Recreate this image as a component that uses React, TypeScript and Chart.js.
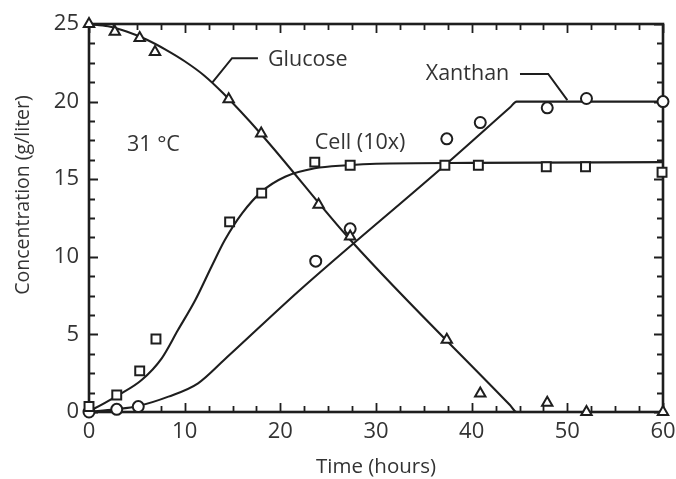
import React, { useEffect, useRef } from "react";
import { Chart, registerables } from "chart.js";

Chart.register(...registerables);

// Observed points (time in hours, concentration in g/liter)
const glucoseObsTime = [0, 2.7, 5.3, 6.9, 14.6, 18.0, 24.0, 27.3, 37.4, 40.9, 47.9, 52.0, 60.0];
const glucoseObs = [25, 24.5, 24.1, 23.2, 20.15, 17.95, 13.35, 11.3, 4.65, 1.2, 0.6, 0, 0];
const cellObsTime = [0, 2.9, 5.3, 7.0, 14.7, 18.05, 23.6, 27.3, 37.2, 40.7, 47.8, 51.9, 59.9];
const cellObs = [0.35, 1.1, 2.65, 4.7, 12.25, 14.1, 16.1, 15.9, 15.9, 15.9, 15.8, 15.8, 15.45];
const xanthanObsTime = [0, 2.9, 5.15, 23.7, 27.3, 37.4, 40.9, 47.9, 52.0, 60.0];
const xanthanObs = [0, 0.17, 0.35, 9.72, 11.8, 17.6, 18.65, 19.6, 20.2, 20.0];

// Fitted curves
const glucoseFitTime = [0, 2, 4, 6, 8, 10, 12, 14, 18, 27.3, 44, 44.7, 60];
const glucoseFit = [25, 24.85, 24.5, 24.0, 23.35, 22.6, 21.7, 20.55, 17.9, 11.1, 0.45, 0, 0];
const cellFitTime = [0, 0.6, 3.1, 5.5, 7.6, 9.3, 11.1, 12.8, 14.2, 16.0, 18.05, 20.5, 23.6, 27, 30, 40, 60];
const cellFit = [0.1, 0.24, 1.1, 2.06, 3.46, 5.28, 7.2, 9.36, 11.08, 12.8, 14.2, 15.16, 15.7, 15.9, 16.0, 16.05, 16.1];
const xanthanFitTime = [0, 2.7, 5.15, 8.3, 11.4, 14.2, 22.05, 37.2, 44.0, 44.7, 60];
const xanthanFit = [0, 0.17, 0.39, 0.99, 1.85, 3.4, 7.86, 15.9, 19.62, 20.0, 20.0];

// Axis tick labels
const xTickLabels = [0, 10, 20, 30, 40, 50, 60];
const yTickLabels = [0, 5, 10, 15, 20, 25];

const INK = "#1e1e1e";
const TEXT = "#333";
const FONT = '"Open Sans", "Noto Sans", sans-serif';

const toPts = (xs: number[], ys: number[]) => xs.map((x, i) => ({ x, y: ys[i] }));

// Text labels and leader lines (data coordinates)
const labelTexts = [
  { text: "Glucose", x: 18.7, y: 22.68 },
  { text: "Xanthan", x: 35.2, y: 21.78 },
  { text: "Cell (10x)", x: 23.6, y: 17.33 },
  { text: "31 °C", x: 3.97, y: 17.2 },
];
const leaderLines = [
  [ [17.66, 22.8], [14.95, 22.8], [12.86, 21.2] ],
  [ [45.05, 21.78], [48.0, 21.78], [50.0, 20.1] ],
];

const decorPlugin = {
  id: "decor",
  beforeDatasetsDraw(chart: any) {
    const { ctx, chartArea: a, scales } = chart;
    const xs = scales.x;
    const ys = scales.y;
    ctx.save();
    ctx.strokeStyle = INK;
    ctx.lineWidth = 2.6;
    ctx.strokeRect(a.left, a.top, a.right - a.left, a.bottom - a.top);
    ctx.lineWidth = 1.8;
    ctx.beginPath();
    for (let v = 0; v <= 60.001; v += 2.5) {
      const px = Math.round(xs.getPixelForValue(v)) + 0.5;
      const len = Math.abs(v % 10) < 1e-6 ? 9 : 6;
      ctx.moveTo(px, a.bottom);
      ctx.lineTo(px, a.bottom - len);
      ctx.moveTo(px, a.top);
      ctx.lineTo(px, a.top + len);
    }
    for (let v = 0; v <= 25.001; v += 1.25) {
      const py = Math.round(ys.getPixelForValue(v)) + 0.5;
      const len = Math.abs(v % 5) < 1e-6 ? 9 : 6;
      ctx.moveTo(a.left, py);
      ctx.lineTo(a.left + len, py);
      ctx.moveTo(a.right, py);
      ctx.lineTo(a.right - len, py);
    }
    ctx.stroke();
    ctx.restore();
  },
  afterDraw(chart: any) {
    const { ctx, scales } = chart;
    const xs = scales.x;
    const ys = scales.y;
    ctx.save();
    ctx.strokeStyle = INK;
    ctx.lineWidth = 2;
    for (const line of leaderLines) {
      ctx.beginPath();
      line.forEach(([x, y], i) => {
        const px = xs.getPixelForValue(x);
        const py = ys.getPixelForValue(y);
        if (i === 0) ctx.moveTo(px, py);
        else ctx.lineTo(px, py);
      });
      ctx.stroke();
    }
    ctx.fillStyle = TEXT;
    ctx.font = `21.5px ${FONT}`;
    ctx.textAlign = "left";
    ctx.textBaseline = "middle";
    for (const l of labelTexts) {
      ctx.fillText(l.text, xs.getPixelForValue(l.x), ys.getPixelForValue(l.y));
    }
    // y-axis title
    ctx.translate(23, 195);
    ctx.rotate(-Math.PI / 2);
    ctx.textAlign = "center";
    ctx.font = `19.5px ${FONT}`;
    ctx.fillText("Concentration (g/liter)", 0, 0);
    ctx.restore();
  },
};

export default function App() {
  const ref = useRef<HTMLCanvasElement | null>(null);
  useEffect(() => {
    document.body.style.margin = "0";
    const canvas = ref.current;
    if (!canvas) return;
    const lineDs = (label: string, xs: number[], ys: number[]) => ({
      label,
      data: toPts(xs, ys),
      showLine: true,
      borderColor: INK,
      borderWidth: 2.1,
      pointRadius: 0,
      cubicInterpolationMode: "monotone" as const,
      fill: false,
    });
    const markDs = (label: string, xs: number[], ys: number[], style: string, r: number) => ({
      label,
      data: toPts(xs, ys),
      showLine: false,
      pointStyle: style,
      pointRadius: r,
      pointBorderWidth: 2,
      pointBorderColor: INK,
      pointBackgroundColor: "#fff",
      clip: false as any,
    });
    const chart = new Chart(canvas, {
      type: "scatter",
      data: {
        datasets: [
          markDs("Glucose", glucoseObsTime, glucoseObs, "triangle", 6),
          markDs("Cell (10x)", cellObsTime, cellObs, "rect", 6.3),
          markDs("Xanthan", xanthanObsTime, xanthanObs, "circle", 5.5),
          lineDs("Glucose fit", glucoseFitTime, glucoseFit),
          lineDs("Cell fit", cellFitTime, cellFit),
          lineDs("Xanthan fit", xanthanFitTime, xanthanFit),
        ] as any,
      },
      options: {
        animation: false,
        responsive: false,
        devicePixelRatio: 1,
        layout: { padding: { left: 0, right: 13, top: 24, bottom: 0 } },
        plugins: { legend: { display: false }, tooltip: { enabled: false } },
        scales: {
          x: {
            type: "linear",
            min: 0,
            max: 60,
            afterFit: (s: any) => { s.height = 67; s.paddingLeft = 0; s.paddingRight = 0; },
            afterBuildTicks: (s: any) => { s.ticks = xTickLabels.map((v) => ({ value: v })); },
            grid: { display: false, drawTicks: false },
            border: { display: false },
            ticks: { color: TEXT, font: { family: FONT, size: 22 }, padding: 7 },
            title: { display: true, text: "Time (hours)", color: TEXT, font: { family: FONT, size: 20.5 }, padding: { top: 0, bottom: 0 } },
          },
          y: {
            type: "linear",
            min: 0,
            max: 25,
            afterFit: (s: any) => { s.width = 89; s.paddingTop = 0; s.paddingBottom = 0; },
            afterBuildTicks: (s: any) => { s.ticks = yTickLabels.map((v) => ({ value: v })); },
            grid: { display: false, drawTicks: false },
            border: { display: false },
            ticks: { color: TEXT, font: { family: FONT, size: 22 }, padding: 10 },
          },
        },
      },
      plugins: [decorPlugin],
    });
    return () => chart.destroy();
  }, []);
  return (
    <div style={{ width: 676, height: 479 }}>
      <canvas ref={ref} width={676} height={479} style={{ display: "block" }} />
    </div>
  );
}
